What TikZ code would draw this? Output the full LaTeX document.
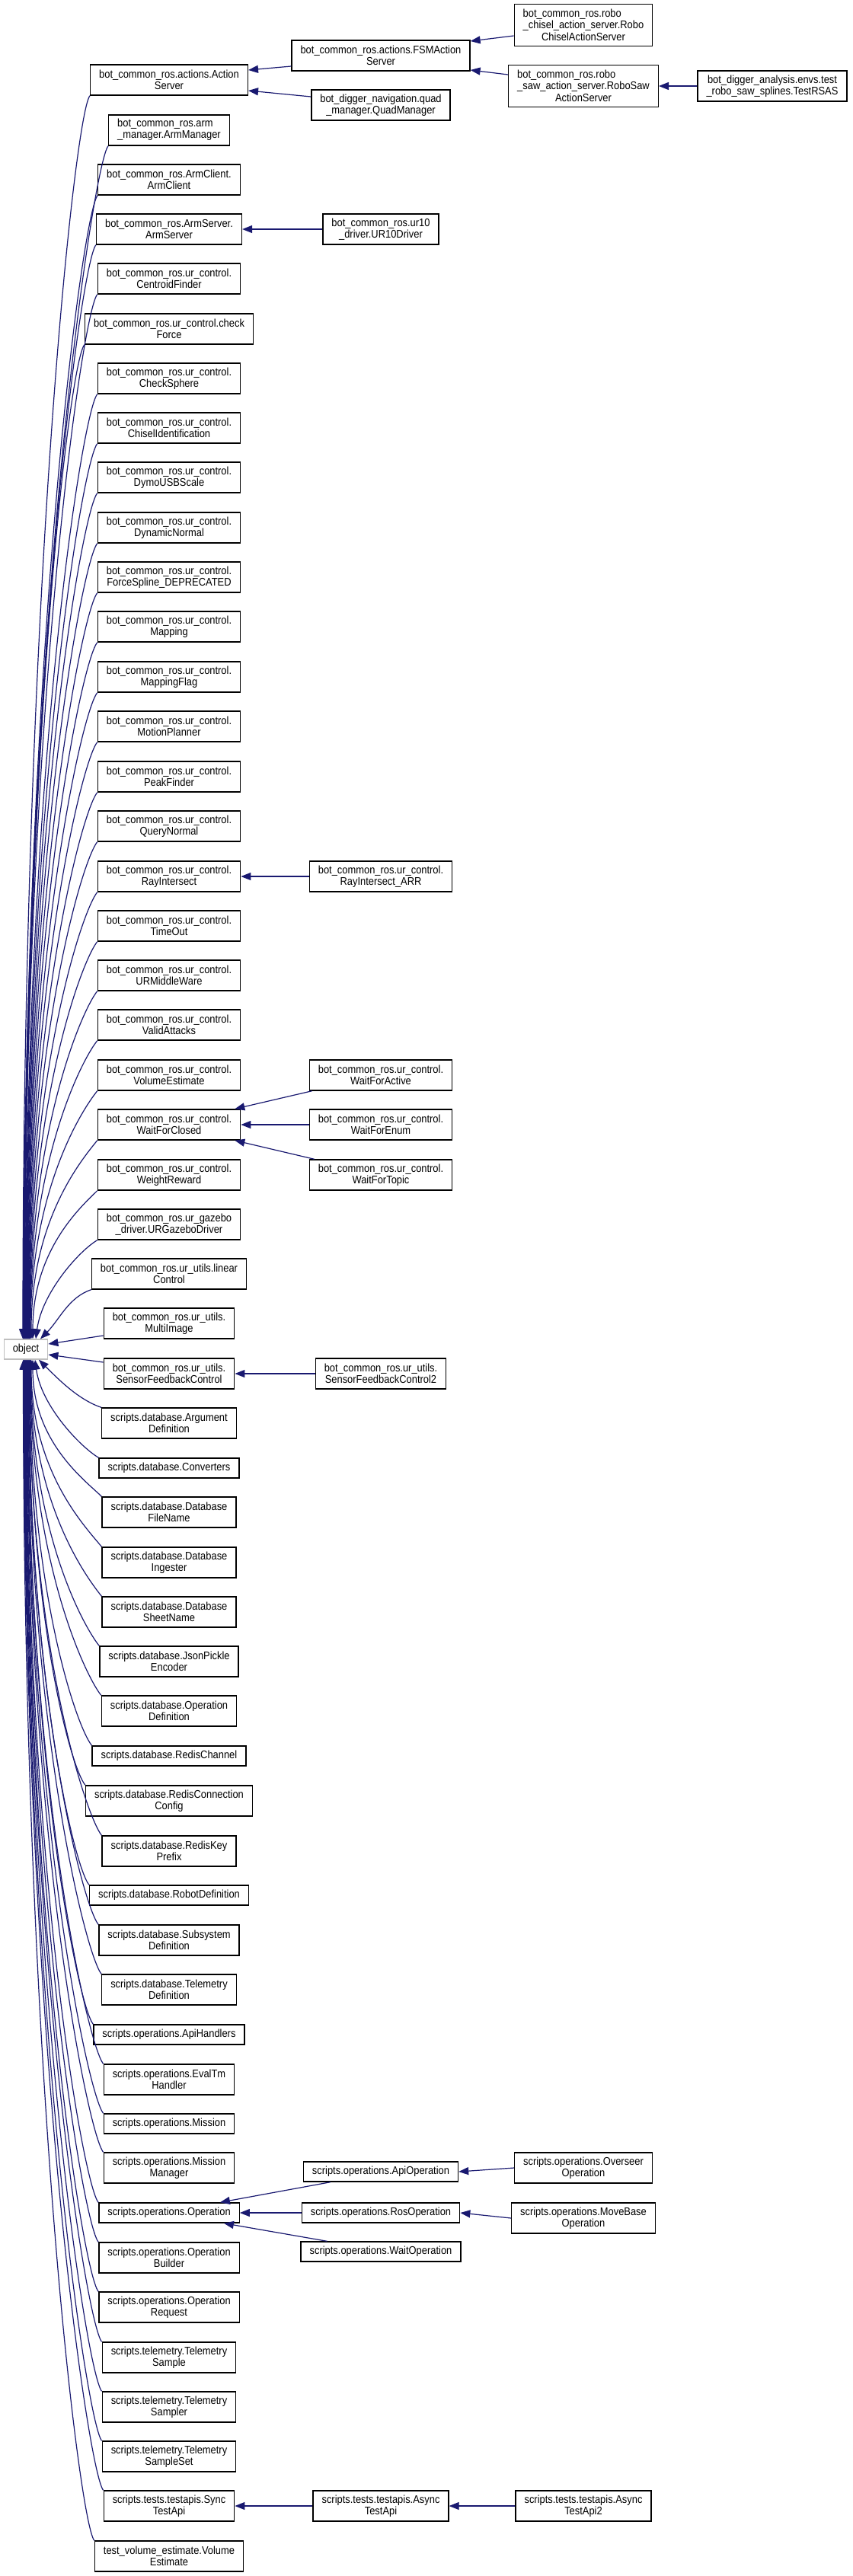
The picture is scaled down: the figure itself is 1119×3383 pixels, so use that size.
\documentclass[tikz,border=0pt]{standalone}
\usepackage{fontspec}
\setmainfont{Liberation Sans}[FakeStretch=0.89]
\usetikzlibrary{arrows.meta,calc}
\definecolor{edgeblue}{HTML}{191970}
\definecolor{rootgray}{HTML}{BFBFBF}

\begin{document}
\begin{tikzpicture}[x=1pt,y=-1pt,
cls/.style = {draw=black, line width=1.4pt, fill=white, align=center,
        font={\fontsize{14.5}{14.6}\selectfont},
        inner xsep=11.5pt, inner ysep=2pt, minimum height=40pt},
cls1/.style = {cls, minimum height=26pt},
cls3/.style = {cls, minimum height=55pt},
root/.style = {cls1, draw=rootgray},
inh/.style = {edgeblue, line width=1.2pt, -{Triangle[length=13pt,width=10pt]}}]

        \useasboundingbox (0,0) rectangle (1119,3383);

        % base class
        \node[root] (obj) at (34,1772) {object};

        % direct subclasses of object
        \node[cls] (AS) at (222,105) {bot\_common\_ros.actions.Action\\Server};
        \node[cls] (AM) at (222,171) {\begin{tabular}{@{}l@{}}bot\_common\_ros.arm\\\_manager.ArmManager\end{tabular}};
        \node[cls] (AC) at (222,236) {bot\_common\_ros.ArmClient.\\ArmClient};
        \node[cls] (ASv) at (222,301) {bot\_common\_ros.ArmServer.\\ArmServer};
        \node[cls] (CF) at (222,366) {bot\_common\_ros.ur\_control.\\CentroidFinder};
        \node[cls] (CFo) at (222,432) {bot\_common\_ros.ur\_control.check\\Force};
        \node[cls] (CS) at (222,497) {bot\_common\_ros.ur\_control.\\CheckSphere};
        \node[cls] (CI) at (222,562) {bot\_common\_ros.ur\_control.\\ChiselIdentification};
        \node[cls] (DU) at (222,627) {bot\_common\_ros.ur\_control.\\DymoUSBScale};
        \node[cls] (DN) at (222,693) {bot\_common\_ros.ur\_control.\\DynamicNormal};
        \node[cls] (FS) at (222,758) {bot\_common\_ros.ur\_control.\\ForceSpline\_DEPRECATED};
        \node[cls] (Map) at (222,823) {bot\_common\_ros.ur\_control.\\Mapping};
        \node[cls] (MF) at (222,889) {bot\_common\_ros.ur\_control.\\MappingFlag};
        \node[cls] (MP) at (222,954) {bot\_common\_ros.ur\_control.\\MotionPlanner};
        \node[cls] (PF) at (222,1020) {bot\_common\_ros.ur\_control.\\PeakFinder};
        \node[cls] (QN) at (222,1085) {bot\_common\_ros.ur\_control.\\QueryNormal};
        \node[cls] (RI) at (222,1151) {bot\_common\_ros.ur\_control.\\RayIntersect};
        \node[cls] (TO) at (222,1216) {bot\_common\_ros.ur\_control.\\TimeOut};
        \node[cls] (UM) at (222,1281) {bot\_common\_ros.ur\_control.\\URMiddleWare};
        \node[cls] (VA) at (222,1346) {bot\_common\_ros.ur\_control.\\ValidAttacks};
        \node[cls] (VE) at (222,1412) {bot\_common\_ros.ur\_control.\\VolumeEstimate};
        \node[cls] (WC) at (222,1477) {bot\_common\_ros.ur\_control.\\WaitForClosed};
        \node[cls] (WR) at (222,1543) {bot\_common\_ros.ur\_control.\\WeightReward};
        \node[cls] (UG) at (222,1608) {bot\_common\_ros.ur\_gazebo\\\_driver.URGazeboDriver};
        \node[cls] (LC) at (222,1673) {bot\_common\_ros.ur\_utils.linear\\Control};
        \node[cls] (MI) at (222,1738) {bot\_common\_ros.ur\_utils.\\MultiImage};
        \node[cls] (SFC) at (222,1804) {bot\_common\_ros.ur\_utils.\\SensorFeedbackControl};
        \node[cls] (AD) at (222,1869) {scripts.database.Argument\\Definition};
        \node[cls1] (Conv) at (222,1928) {scripts.database.Converters};
        \node[cls] (DFN) at (222,1986) {scripts.database.Database\\FileName};
        \node[cls] (DI) at (222,2052) {scripts.database.Database\\Ingester};
        \node[cls] (DSN) at (222,2117) {scripts.database.Database\\SheetName};
        \node[cls] (JPE) at (222,2182) {scripts.database.JsonPickle\\Encoder};
        \node[cls] (OD) at (222,2247) {scripts.database.Operation\\Definition};
        \node[cls1] (RCh) at (222,2306) {scripts.database.RedisChannel};
        \node[cls] (RCC) at (222,2365) {scripts.database.RedisConnection\\Config};
        \node[cls] (RKP) at (222,2431) {scripts.database.RedisKey\\Prefix};
        \node[cls1] (RD) at (222,2489) {scripts.database.RobotDefinition};
        \node[cls] (SD) at (222,2548) {scripts.database.Subsystem\\Definition};
        \node[cls] (TD) at (222,2613) {scripts.database.Telemetry\\Definition};
        \node[cls1] (AH) at (222,2672) {scripts.operations.ApiHandlers};
        \node[cls] (ETH) at (222,2731) {scripts.operations.EvalTm\\Handler};
        \node[cls1] (Mi) at (222,2789) {scripts.operations.Mission};
        \node[cls] (MM) at (222,2847) {scripts.operations.Mission\\Manager};
        \node[cls1] (Op) at (222,2906) {scripts.operations.Operation};
        \node[cls] (OB) at (222,2965) {scripts.operations.Operation\\Builder};
        \node[cls] (OR) at (222,3030) {scripts.operations.Operation\\Request};
        \node[cls] (TS) at (222,3096) {scripts.telemetry.Telemetry\\Sample};
        \node[cls] (TSr) at (222,3161) {scripts.telemetry.Telemetry\\Sampler};
        \node[cls] (TSS) at (222,3226) {scripts.telemetry.Telemetry\\SampleSet};
        \node[cls] (STA) at (222,3291) {scripts.tests.testapis.Sync\\TestApi};
        \node[cls] (TVE) at (222,3357) {test\_volume\_estimate.Volume\\Estimate};

        % deeper subclasses
        \node[cls] (FSM) at (500,73) {bot\_common\_ros.actions.FSMAction\\Server};
        \node[cls] (QM) at (500,138) {bot\_digger\_navigation.quad\\\_manager.QuadManager};
        \node[cls3] (RCAS) at (766,33) {\begin{tabular}[b]{@{}l@{}}bot\_common\_ros.robo\\\_chisel\_action\_server.Robo\end{tabular}\\ChiselActionServer};
        \node[cls3] (RSAS) at (766,113) {\begin{tabular}[b]{@{}l@{}}bot\_common\_ros.robo\\\_saw\_action\_server.RoboSaw\end{tabular}\\ActionServer};
        \node[cls] (TRSAS) at (1014,113) {bot\_digger\_analysis.envs.test\\\_robo\_saw\_splines.TestRSAS};
        \node[cls] (UR10) at (500,301) {bot\_common\_ros.ur10\\\_driver.UR10Driver};
        \node[cls] (RIA) at (500,1151) {bot\_common\_ros.ur\_control.\\RayIntersect\_ARR};
        \node[cls] (WFA) at (500,1412) {bot\_common\_ros.ur\_control.\\WaitForActive};
        \node[cls] (WFE) at (500,1477) {bot\_common\_ros.ur\_control.\\WaitForEnum};
        \node[cls] (WFT) at (500,1543) {bot\_common\_ros.ur\_control.\\WaitForTopic};
        \node[cls] (SFC2) at (500,1804) {bot\_common\_ros.ur\_utils.\\SensorFeedbackControl2};
        \node[cls1] (AO) at (500,2852) {scripts.operations.ApiOperation};
        \node[cls1] (RO) at (500,2906) {scripts.operations.RosOperation};
        \node[cls1] (WO) at (500,2957) {scripts.operations.WaitOperation};
        \node[cls] (OO) at (766,2847) {scripts.operations.Overseer\\Operation};
        \node[cls] (MBO) at (766,2913) {scripts.operations.MoveBase\\Operation};
        \node[cls] (ATA) at (500,3291) {scripts.tests.testapis.Async\\TestApi};
        \node[cls] (ATA2) at (766,3291) {scripts.tests.testapis.Async\\TestApi2};

        % edges into object from above
        \draw[inh] (AS.south west) .. controls +(-20,25) and +(0,-980) .. ([xshift=-4pt]obj.north);
        \draw[inh] (AM.south west) .. controls +(-20,25) and +(0,-941) .. ([xshift=-3.5pt]obj.north);
        \draw[inh] (AC.south west) .. controls +(-20,25) and +(0,-902) .. ([xshift=-3pt]obj.north);
        \draw[inh] (ASv.south west) .. controls +(-20,25) and +(0,-863) .. ([xshift=-2.5pt]obj.north);
        \draw[inh] (CF.south west) .. controls +(-20,25) and +(0,-824) .. ([xshift=-2pt]obj.north);
        \draw[inh] (CFo.south west) .. controls +(-20,25) and +(0,-784) .. ([xshift=-1.5pt]obj.north);
        \draw[inh] (CS.south west) .. controls +(-20,25) and +(0,-745) .. ([xshift=-1pt]obj.north);
        \draw[inh] (CI.south west) .. controls +(-20,25) and +(0,-706) .. ([xshift=-0.5pt]obj.north);
        \draw[inh] (DU.south west) .. controls +(-20,25) and +(0,-667) .. ([xshift=0pt]obj.north);
        \draw[inh] (DN.south west) .. controls +(-20,25) and +(0,-628) .. ([xshift=0.5pt]obj.north);
        \draw[inh] (FS.south west) .. controls +(-20,25) and +(0,-589) .. ([xshift=1pt]obj.north);
        \draw[inh] (Map.south west) .. controls +(-20,25) and +(0,-550) .. ([xshift=1.5pt]obj.north);
        \draw[inh] (MF.south west) .. controls +(-20,25) and +(0,-510) .. ([xshift=2pt]obj.north);
        \draw[inh] (MP.south west) .. controls +(-20,25) and +(0,-471) .. ([xshift=2.5pt]obj.north);
        \draw[inh] (PF.south west) .. controls +(-20,25) and +(0,-431) .. ([xshift=3pt]obj.north);
        \draw[inh] (QN.south west) .. controls +(-20,25) and +(0,-392) .. ([xshift=3.5pt]obj.north);
        \draw[inh] (RI.south west) .. controls +(-20,25) and +(0,-353) .. ([xshift=4pt]obj.north);
        \draw[inh] (TO.south west) .. controls +(-20,25) and +(0,-314) .. ([xshift=4.5pt]obj.north);
        \draw[inh] (UM.south west) .. controls +(-20,25) and +(0,-275) .. ([xshift=5pt]obj.north);
        \draw[inh] (VA.south west) .. controls +(-20,25) and +(0,-236) .. ([xshift=5.5pt]obj.north);
        \draw[inh] (VE.south west) .. controls +(-20,25) and +(0,-196) .. ([xshift=6pt]obj.north);
        \draw[inh] (WC.south west) .. controls +(-20,25) and +(0,-157) .. ([xshift=7pt]obj.north);
        \draw[inh] (WR.south west) .. controls +(-20,20) and +(0,-118) .. ([xshift=9pt]obj.north);
        \draw[inh] (UG.south west) .. controls +(-25,15) and +(8,-60) .. ([xshift=13pt]obj.north);
        \draw[inh] (LC.south west) .. controls +(-30,10) and +(25,-25) .. ([xshift=19pt]obj.north);
        \draw[inh] ($(MI.west)+(0,16)$) -- ($(obj.east)+(0,-7)$);
        \draw[inh] ($(SFC.west)+(0,-15)$) -- ($(obj.east)+(0,7)$);

        % edges into object from below
        \draw[inh] (AD.north west) .. controls +(-30,-10) and +(25,25) .. ([xshift=17pt]obj.south);
        \draw[inh] (Conv.north west) .. controls +(-25,-15) and +(8,60) .. ([xshift=12pt]obj.south);
        \draw[inh] (DFN.north west) .. controls +(-20,-20) and +(0,109) .. ([xshift=9pt]obj.south);
        \draw[inh] (DI.north west) .. controls +(-20,-25) and +(0,148) .. ([xshift=7pt]obj.south);
        \draw[inh] (DSN.north west) .. controls +(-20,-25) and +(0,187) .. ([xshift=6.5pt]obj.south);
        \draw[inh] (JPE.north west) .. controls +(-20,-25) and +(0,226) .. ([xshift=6pt]obj.south);
        \draw[inh] (OD.north west) .. controls +(-20,-25) and +(0,265) .. ([xshift=5.5pt]obj.south);
        \draw[inh] (RCh.north west) .. controls +(-20,-25) and +(0,305) .. ([xshift=5pt]obj.south);
        \draw[inh] (RCC.north west) .. controls +(-20,-25) and +(0,336) .. ([xshift=4.5pt]obj.south);
        \draw[inh] (RKP.north west) .. controls +(-20,-25) and +(0,376) .. ([xshift=4pt]obj.south);
        \draw[inh] (RD.north west) .. controls +(-20,-25) and +(0,415) .. ([xshift=3.5pt]obj.south);
        \draw[inh] (SD.north west) .. controls +(-20,-25) and +(0,446) .. ([xshift=3pt]obj.south);
        \draw[inh] (TD.north west) .. controls +(-20,-25) and +(0,485) .. ([xshift=2.5pt]obj.south);
        \draw[inh] (AH.north west) .. controls +(-20,-25) and +(0,524) .. ([xshift=2pt]obj.south);
        \draw[inh] (ETH.north west) .. controls +(-20,-25) and +(0,556) .. ([xshift=1.5pt]obj.south);
        \draw[inh] (Mi.north west) .. controls +(-20,-25) and +(0,595) .. ([xshift=1pt]obj.south);
        \draw[inh] (MM.north west) .. controls +(-20,-25) and +(0,625) .. ([xshift=0.5pt]obj.south);
        \draw[inh] (Op.north west) .. controls +(-20,-25) and +(0,665) .. ([xshift=0pt]obj.south);
        \draw[inh] (OB.north west) .. controls +(-20,-25) and +(0,696) .. ([xshift=-0.5pt]obj.south);
        \draw[inh] (OR.north west) .. controls +(-20,-25) and +(0,735) .. ([xshift=-1pt]obj.south);
        \draw[inh] (TS.north west) .. controls +(-20,-25) and +(0,775) .. ([xshift=-1.5pt]obj.south);
        \draw[inh] (TSr.north west) .. controls +(-20,-25) and +(0,814) .. ([xshift=-2pt]obj.south);
        \draw[inh] (TSS.north west) .. controls +(-20,-25) and +(0,853) .. ([xshift=-2.5pt]obj.south);
        \draw[inh] (STA.north west) .. controls +(-20,-25) and +(0,892) .. ([xshift=-3pt]obj.south);
        \draw[inh] (TVE.north west) .. controls +(-20,-25) and +(0,931) .. ([xshift=-3.5pt]obj.south);

        % edges between the subclasses
        \draw[inh] ($(FSM.west)+(0,14)$) -- ($(AS.east)+(0,-13)$);
        \draw[inh] ($(QM.west)+(0,-11)$) -- ($(AS.east)+(0,14)$);
        \draw[inh] ($(RCAS.west)+(0,14)$) -- ($(FSM.east)+(0,-19)$);
        \draw[inh] ($(RSAS.west)+(0,-15)$) -- ($(FSM.east)+(0,19)$);
        \draw[inh] (TRSAS.west) -- (RSAS.east);
        \draw[inh] (UR10.west) -- (ASv.east);
        \draw[inh] (RIA.west) -- (RI.east);
        \draw[inh] ($(WFA.south west)+(4,0)$) -- ($(WC.north east)+(-8,0)$);
        \draw[inh] (WFE.west) -- (WC.east);
        \draw[inh] ($(WFT.north west)+(7,0)$) -- ($(WC.south east)+(-8,0)$);
        \draw[inh] (SFC2.west) -- (SFC.east);
        \draw[inh] ($(AO.south west)+(36,0)$) -- ($(Op.north east)+(-26,0)$);
        \draw[inh] (RO.west) -- (Op.east);
        \draw[inh] ($(WO.north west)+(35,0)$) -- ($(Op.south east)+(-21,0)$);
        \draw[inh] (OO.west) -- (AO.east);
        \draw[inh] (MBO.west) -- (RO.east);
        \draw[inh] (ATA.west) -- (STA.east);
        \draw[inh] (ATA2.west) -- (ATA.east);

    \end{tikzpicture}
\end{document}
